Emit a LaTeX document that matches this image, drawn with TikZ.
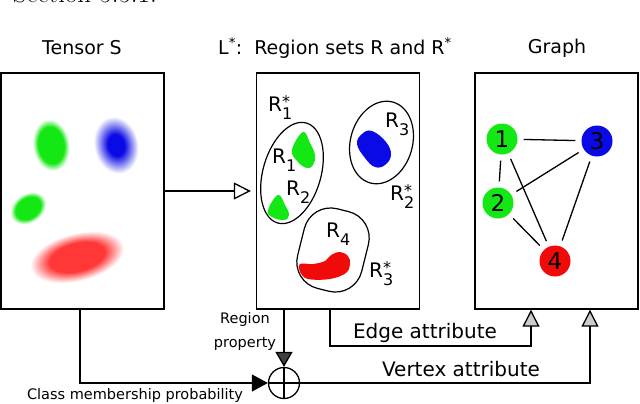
\documentclass[tikz,border=0pt]{standalone}
\usepackage{fontspec}
\setsansfont{DejaVu Sans}
\usepackage{color}
\usepackage{tikz}
\usetikzlibrary{arrows.meta,shapes.geometric}

\definecolor{vgreen}{RGB}{20,232,20}
\definecolor{vblue}{RGB}{10,10,230}
\definecolor{vred}{RGB}{240,10,10}
\definecolor{vpink}{RGB}{255,55,55}

\pgfdeclareradialshading{greenblur}{\pgfpointorigin}{color(0bp)=(vgreen); color(17bp)=(vgreen); color(24bp)=(white); color(50bp)=(white)}
\pgfdeclareradialshading{blueblur}{\pgfpointorigin}{color(0bp)=(vblue); color(9bp)=(vblue); color(24bp)=(white); color(50bp)=(white)}
\pgfdeclareradialshading{redblur}{\pgfpointorigin}{color(0bp)=(vpink); color(14bp)=(vpink); color(24bp)=(white); color(50bp)=(white)}

\newcommand{\rset}[2]{R\rlap{\raisebox{4pt}{\fontsize{16}{16}\selectfont#2}}\raisebox{-8pt}{\fontsize{16}{16}\selectfont#1}}

\begin{document}
\begin{tikzpicture}[x=1pt, y=1pt,
    panel/.style={draw, line width=1.4pt, minimum width=163, minimum height=236, inner sep=0},
    title/.style={font=\sffamily\fontsize{19}{22}\selectfont},
    lab/.style={font=\sffamily\fontsize{20}{24}\selectfont, anchor=base west, inner sep=0},
    small/.style={font=\sffamily\fontsize{14.5}{24}\selectfont},
    attr/.style={font=\sffamily\fontsize{20}{24}\selectfont},
    vertex/.style={circle, minimum size=31, inner sep=0, font=\sffamily\fontsize{23}{23}\selectfont},
    link/.style={line width=1.3pt, shorten >=6pt, shorten <=6pt},
    wire/.style={line width=1.3pt},
    arr/.style={wire, -{Triangle[fill=gray!40, length=17pt, width=17pt, line width=1.3pt]}},
    darr/.style={wire, -{Triangle[fill=darkgray, length=15pt, width=17pt, line width=1.3pt]}}]
  \useasboundingbox (0,0) rectangle (640,-404);

  % cut-off line of the page above
  \node[anchor=base east, font=\fontsize{27}{27}\selectfont, inner sep=0] (sect) at (157,-3) {Section 5.5.1.};

  % titles
  \node[title] (tTensor) at (82,-48) {Tensor S};
  \node[title] (tRegion) at (335,-48) {L\textsuperscript{*}:\ \ Region sets R and R\textsuperscript{*}};
  \node[title] (tGraph) at (557,-48) {Graph};

  % panels
  \node[panel] (tensor) at (82.5,-191) {};
  \node[panel] (regions) at (338,-191) {};
  \node[panel] (graph) at (556.5,-191) {};

  % tensor S
  \begin{scope}[transform canvas={shift={(51,-145)}, rotate=8}]
    \shade[shading=greenblur] (0,0) ellipse (19 and 27);
  \end{scope}
  \begin{scope}[transform canvas={shift={(116,-145)}, rotate=12}]
    \shade[shading=blueblur] (0,0) ellipse (23 and 30);
  \end{scope}
  \begin{scope}[transform canvas={shift={(28,-208)}, rotate=35}]
    \shade[shading=greenblur] (0,0) ellipse (20 and 15);
  \end{scope}
  \begin{scope}[transform canvas={shift={(77,-257)}, rotate=14}]
    \shade[shading=redblur] (0,0) ellipse (50 and 25);
  \end{scope}

  % region sets
  \fill[vgreen] plot[smooth cycle, tension=0.7] coordinates {(303,-132) (310,-143) (315,-155) (313,-165) (307,-168) (298,-162) (292,-150)};
  \fill[vgreen] plot[smooth cycle, tension=0.7] coordinates {(278,-195) (285,-205) (289,-215) (284,-220) (272,-217) (268,-210)};
  \fill[vblue] plot[smooth cycle, tension=0.7] coordinates {(372,-131) (386,-142) (391,-155) (385,-165) (375,-167) (365,-158) (357,-144) (362,-134)};
  \fill[vred] plot[smooth cycle, tension=0.6] coordinates {(300,-264) (313,-264) (325,-261) (331,-255) (340,-252) (348,-256) (350,-264) (346,-273) (330,-279) (308,-279) (300,-272)};

  \node[ellipse, draw, line width=1.2pt, minimum width=58, minimum height=104, inner sep=0, rotate=-16] (setA) at (292,-173) {};
  \node[ellipse, draw, line width=1.2pt, minimum width=62, minimum height=84, inner sep=0, rotate=-16] (setB) at (381.5,-142.5) {};
  \node[draw, line width=1.2pt, rounded corners=27pt, minimum width=66, minimum height=82, inner sep=0, rotate=-14] (setC) at (333,-250) {};

  \node[lab] (lA) at (268,-111.7) {\rset{1}{*}};
  \node[lab] (lR1) at (272,-163) {\rset{1}{}};
  \node[lab] (lR2) at (286,-195) {\rset{2}{}};
  \node[lab] (lR3) at (385,-127) {\rset{3}{}};
  \node[lab] (lB) at (390,-200) {\rset{2}{*}};
  \node[lab] (lR4) at (326,-237) {\rset{4}{}};
  \node[lab] (lC) at (369,-277) {\rset{3}{*}};

  % graph
  \node[vertex, fill=vgreen] (n1) at (502,-139) {1};
  \node[vertex, fill=vblue] (n3) at (597,-141) {3};
  \node[vertex, fill=vgreen] (n2) at (498,-203) {2};
  \node[vertex, fill=vred] (n4) at (555,-261) {4};
  \draw[link] (n1) -- (n3);
  \draw[link] (n1) -- (n2);
  \draw[link] (n1) -- (n4);
  \draw[link] (n2) -- (n3);
  \draw[link] (n2) -- (n4);
  \draw[link] (n3) -- (n4);

  % combining
  \node[circle, draw, line width=1.3pt, minimum size=31, inner sep=0] (plus) at (284,-383) {};
  \draw[wire] (plus.north) -- (plus.south) (plus.west) -- (plus.east);

  \draw[arr, -{Triangle[fill=white, length=17pt, width=17pt, line width=1.3pt]}, shorten >=5pt] (tensor.east) -- (regions.west);
  \draw[darr, -{Triangle[fill=black, length=16pt, width=17pt]}] ([xshift=-2.5]tensor.south) |- (plus.west);
  \draw[darr] (plus.north |- regions.south) -- (plus.north);
  \draw[arr] ([xshift=-8]regions.south) |- (531,-346) coordinate (ebend) -- (ebend |- graph.south);
  \draw[arr] (plus.east) -| ([xshift=33.5]graph.south);

  \node[small, align=center] (lprop) at (245,-331) {Region\\property};
  \node[small] (lclass) at (135,-395) {Class membership probability};
  \node[attr] (ledge) at (425,-333) {Edge attribute};
  \node[attr] (lvertex) at (461,-369) {Vertex attribute};
\end{tikzpicture}
\end{document}
